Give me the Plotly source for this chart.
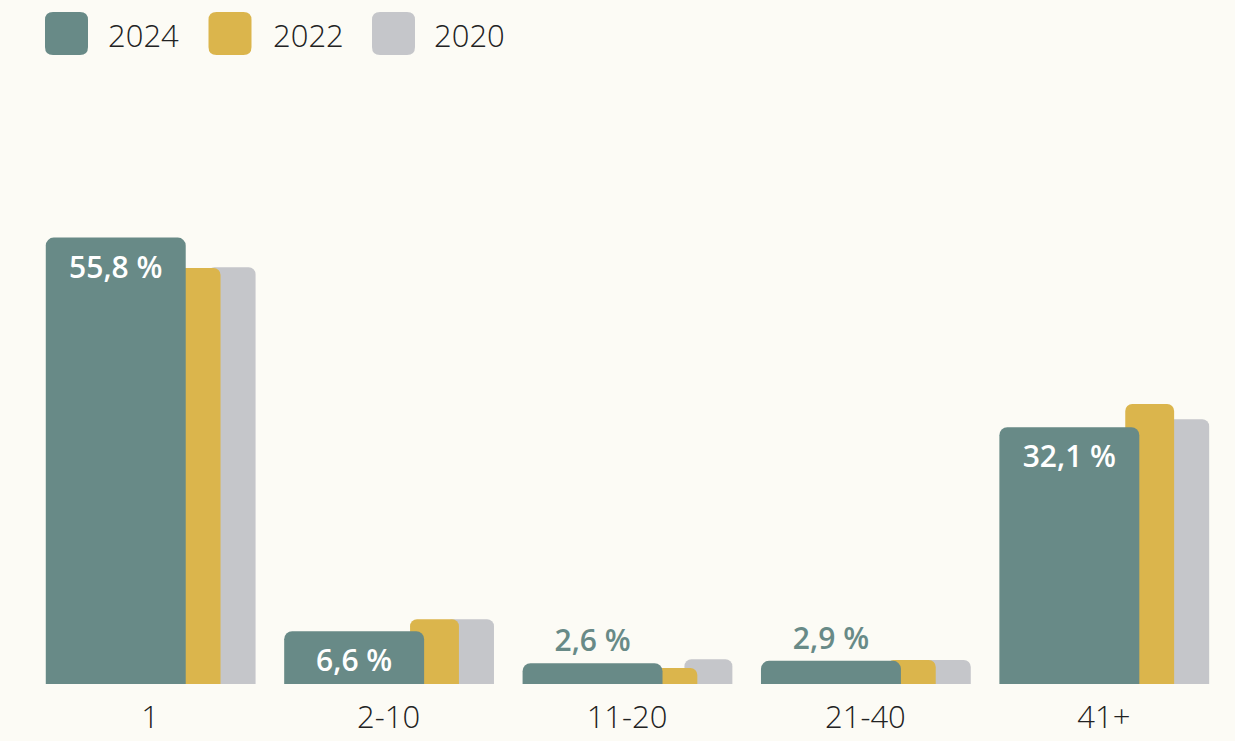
import plotly.graph_objects as go

categories = ["1", "2-10", "11-20", "21-40", "41+"]
v2024 = [55.8, 6.6, 2.6, 2.9, 32.1]
v2022 = [52.0, 8.1, 2.0, 3.0, 35.0]
v2020 = [52.1, 8.1, 3.1, 3.0, 33.1]

years = ["2024", "2022", "2020"]
colors = {"2024": "#688A87", "2022": "#DBB54C", "2020": "#C5C6CA"}
BG = "#FCFBF5"
TEXT = "#222222"

W, H = 1235, 741
L, R, T, B = 31, 12, 124, 57
PW, PH = W - L - R, H - T - B

fig = go.Figure()

# back to front: 2020, 2022, 2024
fig.add_trace(go.Bar(x=categories, y=v2020, name="2020", marker=dict(color=colors["2020"], cornerradius=7, line=dict(width=0)),
                     width=0.201, offset=0.241, showlegend=False, hoverinfo="skip"))
fig.add_trace(go.Bar(x=categories, y=v2022, name="2022", marker=dict(color=colors["2022"], cornerradius=7, line=dict(width=0)),
                     width=0.205, offset=0.090, showlegend=False, hoverinfo="skip"))
fig.add_trace(go.Bar(x=categories, y=v2024, name="2024", marker=dict(color=colors["2024"], cornerradius=8, line=dict(width=0)),
                     width=0.587, offset=-0.438, showlegend=False, hoverinfo="skip",
                     texttemplate="%{y:.1f} %", textposition="auto", textangle=0,
                     insidetextanchor="end", constraintext="none",
                     insidetextfont=dict(family="Open Sans", size=30, color="white", weight=600),
                     outsidetextfont=dict(family="Open Sans", size=30, color=colors["2024"], weight=600),
                     cliponaxis=False))

# custom legend with rounded squares
def rrect(w, h, r):
    x0, x1, y0, y1 = -w / 2, w / 2, -h / 2, h / 2
    return (f"M{x0+r},{y0} L{x1-r},{y0} Q{x1},{y0} {x1},{y0+r} L{x1},{y1-r} Q{x1},{y1} {x1-r},{y1} "
            f"L{x0+r},{y1} Q{x0},{y1} {x0},{y1-r} L{x0},{y0+r} Q{x0},{y0} {x0+r},{y0} Z")

def px2paper_x(px):
    return (px - L) / PW

def px2paper_y(py):
    return (H - B - py) / PH

box_cx = [66.5, 230, 393.5]
text_x = [106, 271, 432]
cy = 33.5
shapes = []
annotations = []
for i, yr in enumerate(years):
    shapes.append(dict(type="path", xref="paper", yref="paper", xsizemode="pixel", ysizemode="pixel",
                       xanchor=px2paper_x(box_cx[i]), yanchor=px2paper_y(cy),
                       path=rrect(43, 43, 8), fillcolor=colors[yr], line=dict(width=0), layer="above"))
    annotations.append(dict(x=px2paper_x(text_x[i]), y=px2paper_y(35), xref="paper", yref="paper",
                            text=yr, showarrow=False, xanchor="left", yanchor="middle",
                            font=dict(family="Open Sans", size=31, color=TEXT, weight=300)))

fig.update_layout(
    width=W, height=H,
    margin=dict(l=L, r=R, t=T, b=B, pad=0, autoexpand=False),
    paper_bgcolor=BG, plot_bgcolor=BG,
    barmode="overlay",
    separators=", ",
    showlegend=False,
    shapes=shapes,
    annotations=annotations,
    xaxis=dict(range=[-0.5, 4.5], showgrid=False, zeroline=False, showline=False, ticks="",
               ticklabelstandoff=12, automargin=False,
               tickfont=dict(family="Open Sans", size=31, color=TEXT, weight=300), fixedrange=True),
    yaxis=dict(range=[0, 70], showgrid=False, zeroline=False, showline=False, showticklabels=False,
               ticks="", fixedrange=True, automargin=False),
)

fig.write_html("out.html", config={"displayModeBar": False},
               post_script="document.body.style.margin='0';document.body.style.background='#FCFBF5';"
                           "document.body.style.overflow='hidden';")
